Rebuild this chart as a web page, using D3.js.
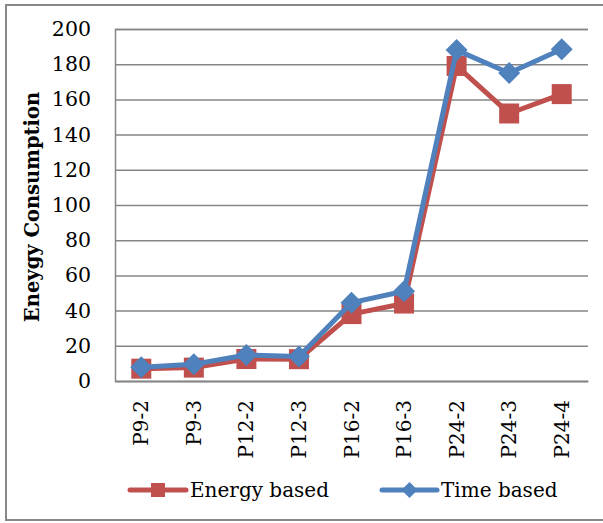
<!DOCTYPE html>
<html><head><meta charset="utf-8">
<script src="https://cdn.jsdelivr.net/npm/d3@7/dist/d3.min.js"></script>
<style>body{margin:0;background:#fff}svg{display:block}</style>
</head><body>
<svg id="c" width="603" height="523"></svg>
<script>
const categories = ["P9-2","P9-3","P12-2","P12-3","P16-2","P16-3","P24-2","P24-3","P24-4"];
const energyBased = [7, 7.6, 12.5, 12.4, 38, 44, 179, 152, 163];
const timeBased = [7.8, 9.5, 14.8, 13.9, 44.5, 51, 188, 175, 188.5];
const yTicks = [0,20,40,60,80,100,120,140,160,180,200];
const seriesNames = ["Energy based","Time based"];

const svg = d3.select("#c");
const font = "DejaVu Serif";
const m = {l:115, t:29, r:588, b:381};

svg.append("rect").attr("x",6).attr("y",5).attr("width",610).attr("height",515)
  .attr("fill","#fff").attr("stroke","#888").attr("stroke-width",2);

const x = d3.scaleBand().domain(categories).range([m.l, m.r]);
const y = d3.scaleLinear().domain([0,200]).range([m.b, m.t]);

const yAxis = d3.axisLeft(y).tickValues(yTicks).tickSize(-(m.r-m.l)).tickPadding(8);
const gy = svg.append("g").attr("transform",`translate(${m.l},0)`).call(yAxis);
gy.select(".domain").attr("stroke","#868686").attr("stroke-width",1.5);
gy.selectAll(".tick line").attr("stroke","#868686").attr("stroke-width",1.5);
gy.selectAll(".tick text").attr("font-family",font).attr("font-size",20.5).attr("fill","#000").attr("x",-24);

const xAxis = d3.axisBottom(x).tickSize(0).tickPadding(0);
const gx = svg.append("g").attr("transform",`translate(0,${m.b})`).call(xAxis);
gx.select(".domain").attr("stroke","#868686").attr("stroke-width",1.5);
gx.selectAll(".tick text").attr("font-family",font).attr("font-size",20).attr("fill","#000")
  .attr("transform","rotate(-90)").attr("text-anchor","end").attr("x",-19).attr("y",0).attr("dy","0.35em");

svg.append("text").attr("transform","translate(39,207) rotate(-90)")
  .attr("text-anchor","middle").attr("font-family",font).attr("font-weight","bold")
  .attr("font-size",19.5).text("Eneygy Consumption");

const line = d3.line().x((d,i)=>x(categories[i])+x.bandwidth()/2).y(d=>y(d));
const red = "#C0504D", blue = "#4F81BD";

svg.append("path").datum(energyBased).attr("d",line).attr("fill","none").attr("stroke",red).attr("stroke-width",5).attr("stroke-linejoin","round");
svg.selectAll(".sq").data(energyBased).enter().append("rect")
  .attr("x",(d,i)=>x(categories[i])+x.bandwidth()/2-10).attr("y",d=>y(d)-10)
  .attr("width",20).attr("height",20).attr("fill",red);

svg.append("path").datum(timeBased).attr("d",line).attr("fill","none").attr("stroke",blue).attr("stroke-width",5).attr("stroke-linejoin","round");
svg.selectAll(".dm").data(timeBased).enter().append("path")
  .attr("transform",(d,i)=>`translate(${x(categories[i])+x.bandwidth()/2},${y(d)})`)
  .attr("d","M0,-11L11,0L0,11L-11,0Z").attr("fill",blue);

const lg = svg.append("g");
const ly = 490;
lg.append("line").attr("x1",130).attr("x2",186).attr("y1",ly).attr("y2",ly).attr("stroke",red).attr("stroke-width",5).attr("stroke-linecap","round");
lg.append("rect").attr("x",151).attr("y",ly-7).attr("width",14).attr("height",14).attr("fill",red);
lg.append("text").attr("x",190).attr("y",ly).attr("dy","0.35em").attr("font-family",font).attr("font-size",20).text(seriesNames[0]);
lg.append("line").attr("x1",382).attr("x2",437).attr("y1",ly).attr("y2",ly).attr("stroke",blue).attr("stroke-width",5).attr("stroke-linecap","round");
lg.append("path").attr("transform",`translate(409.5,${ly})`).attr("d","M0,-8L8,0L0,8L-8,0Z").attr("fill",blue);
lg.append("text").attr("x",441).attr("y",ly).attr("dy","0.35em").attr("font-family",font).attr("font-size",20).text(seriesNames[1]);
</script>
</body></html>
